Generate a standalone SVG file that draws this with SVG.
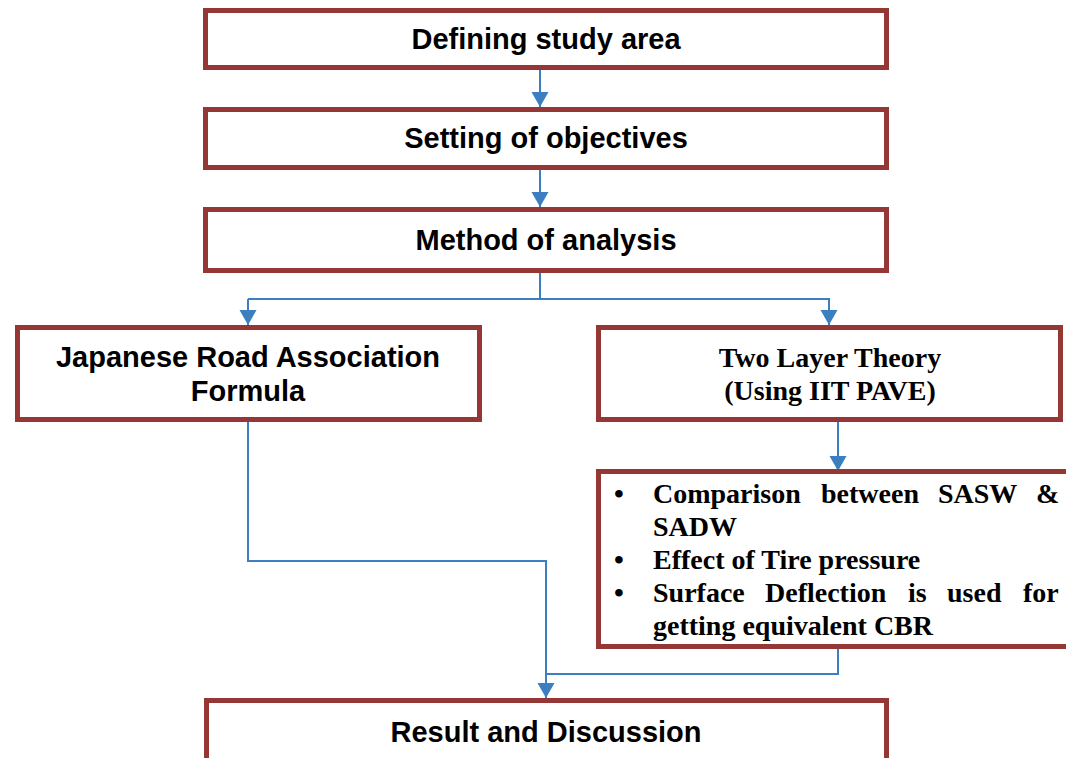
<svg xmlns="http://www.w3.org/2000/svg" width="1066" height="758" viewBox="0 0 1066 758">
<style>
.box{fill:#fff;stroke:#953735;stroke-width:5}
.sans{font-family:"Liberation Sans",Arial,sans-serif;font-weight:bold;font-size:29px;fill:#000}
.serif{font-family:"Liberation Serif","Times New Roman",serif;font-weight:bold;font-size:28px;fill:#000}
.conn{fill:none;stroke:#3c7fc0;stroke-width:2}
</style>
<defs>
<marker id="arr" markerUnits="userSpaceOnUse" markerWidth="17" markerHeight="16" viewBox="0 0 17 16" refX="8.5" refY="15" orient="auto-start-reverse">
<path d="M0,0 L17,0 L8.5,15 Z" fill="#3c7fc0" transform="rotate(0)"/>
</marker>
</defs>
<rect width="1066" height="758" fill="#fff"/>
<g id="connectors">
<path class="conn" d="M540,69 V107"/>
<path d="M531.5,92 L548.5,92 L540,107 Z" fill="#3c7fc0"/>
<path class="conn" d="M540,170 V207"/>
<path d="M531.5,192 L548.5,192 L540,207 Z" fill="#3c7fc0"/>
<path class="conn" d="M540,272 V299 M248,299 H830 M248,299 V325 M829,299 V325"/>
<path d="M239.5,310 L256.5,310 L248,325 Z" fill="#3c7fc0"/>
<path d="M820.5,310 L837.5,310 L829,325 Z" fill="#3c7fc0"/>
<path class="conn" d="M838,421 V471"/>
<path d="M829.5,456 L846.5,456 L838,471 Z" fill="#3c7fc0"/>
<path class="conn" d="M248,421 V561 H546 V698 M838,648 V674 H546"/>
<path d="M537.5,683 L554.5,683 L546,698 Z" fill="#3c7fc0"/>
</g>
<g id="n1">
<rect class="box" x="205.5" y="10.5" width="681" height="57"/>
<text class="sans" x="546" y="49" text-anchor="middle">Defining study area</text>
</g>
<g id="n2">
<rect class="box" x="205.5" y="109.5" width="681" height="58"/>
<text class="sans" x="546" y="148" text-anchor="middle">Setting of objectives</text>
</g>
<g id="n3">
<rect class="box" x="205.5" y="209.5" width="681" height="61"/>
<text class="sans" x="546" y="250" text-anchor="middle">Method of analysis</text>
</g>
<g id="n4">
<rect class="box" x="17.5" y="327.5" width="462" height="92"/>
<text class="sans" x="248" y="367" text-anchor="middle">Japanese Road Association</text>
<text class="sans" x="248" y="401" text-anchor="middle">Formula</text>
</g>
<g id="n5">
<rect class="box" x="598.5" y="327.5" width="462" height="92"/>
<text class="serif" x="830" y="367" text-anchor="middle">Two Layer Theory</text>
<text class="serif" x="830" y="400" text-anchor="middle">(Using IIT PAVE)</text>
</g>
<g id="n6">
<rect class="box" x="598.5" y="471.5" width="480" height="175"/>
<text class="serif" x="614" y="503">•</text>
<text class="serif" x="614" y="569">•</text>
<text class="serif" x="614" y="602">•</text>
<text class="serif" y="503"><tspan x="653">Comparison</tspan><tspan x="821">between</tspan><tspan x="938">SASW</tspan><tspan x="1036">&amp;</tspan></text>
<text class="serif" x="653" y="536">SADW</text>
<text class="serif" x="653" y="569">Effect of Tire pressure</text>
<text class="serif" y="602"><tspan x="653">Surface</tspan><tspan x="765">Deflection</tspan><tspan x="908">is</tspan><tspan x="947">used</tspan><tspan x="1023">for</tspan></text>
<text class="serif" x="653" y="635">getting equivalent CBR</text>
</g>
<g id="n7">
<rect class="box" x="206.5" y="700.5" width="680" height="70"/>
<text class="sans" x="546" y="742" text-anchor="middle">Result and Discussion</text>
</g>
</svg>
